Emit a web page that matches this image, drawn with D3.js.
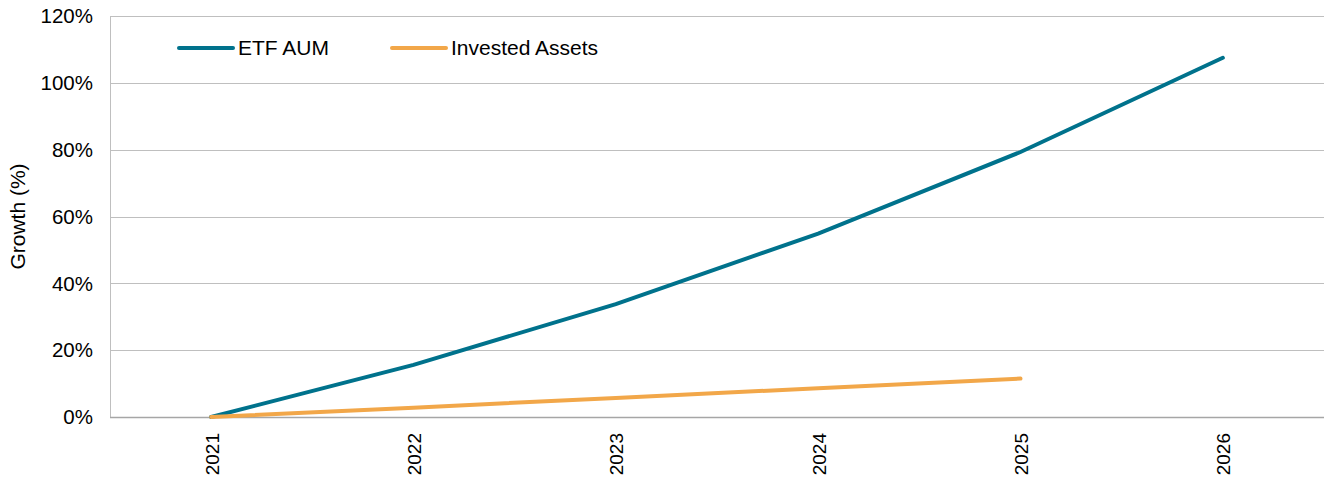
<!DOCTYPE html>
<html>
<head>
<meta charset="utf-8">
<script src="https://cdn.jsdelivr.net/npm/d3@7"></script>
<style>
  body { margin: 0; background: #fff; }
  text { font-family: "Liberation Sans", Arial, sans-serif; fill: #000; }
</style>
</head>
<body>
<div id="chart"></div>
<script>
// chart data
const years = ["2021", "2022", "2023", "2024", "2025", "2026"];
const etfAum = [0, 15.6, 33.8, 54.9, 79.3, 107.5];
const investedAssets = [0, 2.8, 5.7, 8.6, 11.5];
const yTicks = [0, 20, 40, 60, 80, 100, 120];

const width = 1324,
  height = 479;
const margin = { top: 16, right: 0, bottom: 62, left: 110 };

const svg = d3.select("#chart")
  .append("svg")
  .attr("width", width)
  .attr("height", height);

const x = d3.scaleBand()
  .domain(years)
  .range([margin.left, width - margin.right]);

const y = d3.scaleLinear()
  .domain([0, 120])
  .range([height - margin.bottom, margin.top]);

// gridlines
svg.append("g")
  .selectAll("line")
  .data(yTicks.filter(d => d > 0))
  .join("line")
  .attr("x1", margin.left)
  .attr("x2", width - margin.right)
  .attr("y1", d => Math.round(y(d)) + 0.5)
  .attr("y2", d => Math.round(y(d)) + 0.5)
  .attr("stroke", "#bfbfbf")
  .attr("stroke-width", 1);

// left axis line
svg.append("line")
  .attr("x1", margin.left + 0.5).attr("x2", margin.left + 0.5)
  .attr("y1", y(120)).attr("y2", y(0))
  .attr("stroke", "#bfbfbf");

// x axis baseline
svg.append("line")
  .attr("x1", margin.left).attr("x2", width - margin.right)
  .attr("y1", Math.round(y(0)) + 0.5).attr("y2", Math.round(y(0)) + 0.5)
  .attr("stroke", "#a6a6a6")
  .attr("stroke-width", 1.5);

// y axis labels
svg.append("g")
  .selectAll("text")
  .data(yTicks)
  .join("text")
  .attr("x", 93)
  .attr("y", d => y(d))
  .attr("dy", "0.35em")
  .attr("text-anchor", "end")
  .style("font-size", "20.5px")
  .text(d => d + "%");

svg.append("text")
  .attr("transform", `translate(18, ${y(60)}) rotate(-90)`)
  .attr("text-anchor", "middle")
  .attr("dy", "0.35em")
  .style("font-size", "21px")
  .text("Growth (%)");

// x axis labels
svg.append("g")
  .selectAll("text")
  .data(years)
  .join("text")
  .attr("transform", d => `translate(${x(d) + x.bandwidth() / 2 + 1}, 433) rotate(-90)`)
  .attr("text-anchor", "end")
  .attr("dy", "0.35em")
  .style("font-size", "19px")
  .text(d => d);

const line = d3.line()
  .x((d, i) => x(years[i]) + x.bandwidth() / 2)
  .y(d => y(d));

svg.append("path")
  .datum(etfAum)
  .attr("d", line)
  .attr("fill", "none")
  .attr("stroke", "#00728c")
  .attr("stroke-width", 4)
  .attr("stroke-linecap", "round");

svg.append("path")
  .datum(investedAssets)
  .attr("d", line)
  .attr("fill", "none")
  .attr("stroke", "#f2a749")
  .attr("stroke-width", 4)
  .attr("stroke-linecap", "round");

// legend
const legend = [
  { name: "ETF AUM", color: "#00728c", x: 179 },
  { name: "Invested Assets", color: "#f2a749", x: 392 }
];
const lg = svg.append("g")
  .selectAll("g")
  .data(legend)
  .join("g")
  .attr("transform", d => `translate(${d.x}, 48)`);
lg.append("line")
  .attr("x1", 0).attr("x2", 54)
  .attr("stroke", d => d.color)
  .attr("stroke-width", 4)
  .attr("stroke-linecap", "round");
lg.append("text")
  .attr("x", 59)
  .attr("dy", "0.35em")
  .style("font-size", "21px")
  .text(d => d.name);
</script>
</body>
</html>
